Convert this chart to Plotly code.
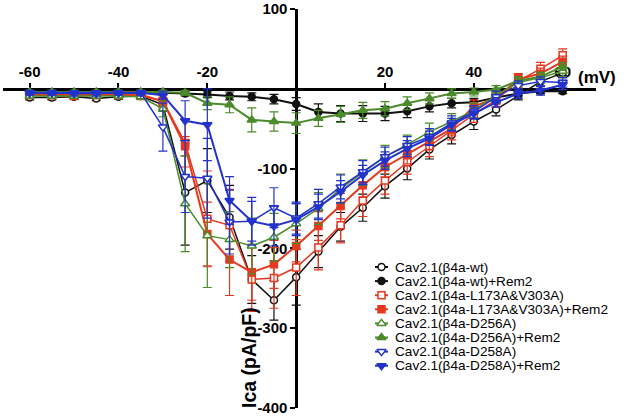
import plotly.graph_objects as go

# ---------------- data ----------------
voltage = [-60, -55, -50, -45, -40, -35, -30, -25, -20, -15, -10, -5, 0,
           5, 10, 15, 20, 25, 30, 35, 40, 45, 50, 55, 60]

names = [
    "Cav2.1(β4a-wt)",
    "Cav2.1(β4a-wt)+Rem2",
    "Cav2.1(β4a-L173A&V303A)",
    "Cav2.1(β4a-L173A&V303A)+Rem2",
    "Cav2.1(β4a-D256A)",
    "Cav2.1(β4a-D256A)+Rem2",
    "Cav2.1(β4a-D258A)",
    "Cav2.1(β4a-D258A)+Rem2",
]

wt = [-11, -11, -10, -12, -10, -9, -20, -130, -115, -161, -239, -265, -236,
      -204, -173, -149, -122, -100, -76, -58, -41, -26, -8, 9, 20]
wt_rem = [-5, -5, -5, -5, -5, -5, -5, -6, -7, -9, -10, -13, -19,
          -29, -31, -31, -31, -28, -22, -18, -17, -11, -6, -3, -3]
l173 = [-8, -8, -9, -8, -8, -9, -15, -68, -163, -171, -239, -237, -224,
        -199, -171, -140, -115, -92, -72, -52, -32, -14, 10, 25, 42]
l173_rem = [-7, -7, -8, -7, -7, -7, -16, -72, -182, -214, -230, -220, -197,
            -172, -147, -121, -98, -82, -66, -50, -22, -12, 12, 19, 34]
d256 = [-9, -9, -9, -9, -9, -10, -25, -144, -184, -189, -197, -186, -169,
        -150, -125, -105, -85, -70, -54, -41, -27, -8, 8, 14, 22]
d256_rem = [-4, -4, -4, -4, -4, -4, -4, -5, -18, -20, -39, -41, -43,
            -37, -32, -27, -25, -18, -12, -6, -4, -1, 10, 15, 28]
d258 = [-5, -5, -6, -6, -5, -5, -48, -110, -112, -167, -166, -149, -162,
        -144, -123, -104, -85, -71, -60, -43, -29, -10, 4, 9, 8]
d258_rem = [-5, -5, -5, -5, -5, -5, -8, -40, -45, -140, -166, -172, -164,
            -148, -129, -108, -90, -75, -62, -45, -31, -17, -6, -2, 5]

err_wt = [3, 3, 3, 3, 3, 3, 8, 66, 40, 40, 30, 25, 35,
          20, 18, 17, 15, 14, 12, 11, 10, 8, 6, 6, 6]
err_wt_rem = [2, 2, 2, 2, 2, 2, 2, 3, 4, 5, 5, 6, 8,
              10, 10, 10, 9, 8, 7, 6, 5, 4, 3, 3, 3]
err_l173 = [3, 3, 3, 3, 3, 3, 8, 30, 60, 45, 40, 38, 35,
            28, 22, 20, 17, 15, 13, 12, 10, 9, 8, 8, 8]
err_l173_rem = [3, 3, 3, 3, 3, 3, 8, 12, 40, 45, 35, 30, 20,
                18, 16, 15, 13, 12, 10, 9, 8, 8, 7, 7, 7]
err_d256 = [3, 3, 3, 3, 3, 3, 10, 60, 65, 35, 35, 30, 25,
            20, 18, 16, 14, 12, 11, 10, 9, 8, 7, 7, 7]
err_d256_rem = [2, 2, 2, 2, 2, 2, 2, 3, 8, 10, 15, 12, 13,
                10, 10, 10, 9, 8, 7, 6, 5, 5, 5, 5, 5]
err_d258 = [3, 3, 3, 3, 3, 3, 30, 45, 50, 40, 30, 25, 20,
            18, 15, 14, 12, 11, 10, 9, 8, 7, 6, 6, 6]
err_d258_rem = [2, 2, 2, 2, 2, 2, 5, 25, 45, 30, 25, 25, 20,
                16, 14, 12, 11, 10, 9, 8, 7, 6, 6, 6, 6]

series = [wt, wt_rem, l173, l173_rem, d256, d256_rem, d258, d258_rem]
errors = [err_wt, err_wt_rem, err_l173, err_l173_rem, err_d256, err_d256_rem,
          err_d258, err_d258_rem]

x_ticks = [-60, -40, -20, 20, 40, 60]
y_ticks = [100, -100, -200, -300, -400]

# ---------------- styles ----------------
BLACK, RED, GREEN, BLUE = "#111111", "#e5381f", "#4b8b2b", "#2233cc"
colors = [BLACK, BLACK, RED, RED, GREEN, GREEN, BLUE, BLUE]
symbols = ["circle", "circle", "square", "square",
           "triangle-up", "triangle-up", "triangle-down", "triangle-down"]
filled = [False, True, False, True, False, True, False, True]
msize = [7, 7, 7, 7, 8, 8, 8, 8]

X_RANGE = [-66, 67.5]
Y_RANGE = [-400, 100]
ML, MR, MT, MB = 3, 29, 9, 8
W, H = 625, 416
PW, PH = W - ML - MR, H - MT - MB
FONT = "Liberation Sans, Arial"

fig = go.Figure()

for i in range(len(series)):
    c = colors[i]
    fig.add_trace(go.Scatter(
        x=voltage, y=series[i], mode="lines+markers",
        name=names[i], showlegend=False,
        line=dict(color=c, width=2 if filled[i] else 1.5),
        marker=dict(symbol=symbols[i], size=msize[i],
                    color=c if filled[i] else "white",
                    line=dict(color=c, width=1.5)),
        error_y=dict(type="data", array=errors[i], visible=True,
                     color=c, thickness=1.2, width=4.5),
        cliponaxis=False,
    ))

# ---------------- custom legend (pixel overlay axes) ----------------
LEG_X0, LEG_X1, LEG_TX = 375, 388, 394
LEG_Y0, LEG_DY = 267, 14.1
annotations = []
for i in range(len(series)):
    c = colors[i]
    yy = LEG_Y0 + i * LEG_DY
    fig.add_trace(go.Scatter(
        x=[LEG_X0, LEG_X1], y=[yy, yy], mode="lines", xaxis="x2", yaxis="y2",
        line=dict(color=c, width=2), showlegend=False, hoverinfo="skip"))
    fig.add_trace(go.Scatter(
        x=[(LEG_X0 + LEG_X1) / 2], y=[yy], mode="markers", xaxis="x2", yaxis="y2",
        marker=dict(symbol=symbols[i], size=msize[i],
                    color=c if filled[i] else "white",
                    line=dict(color=c, width=1.5)),
        showlegend=False, hoverinfo="skip", cliponaxis=False))
    annotations.append(dict(
        x=LEG_TX, y=yy, xref="x2", yref="y2", text=names[i], showarrow=False,
        xanchor="left", yanchor="middle", borderpad=0,
        font=dict(family=FONT, size=13.6, color="black")))

# axis titles
annotations.append(dict(
    x=577, y=77, xref="x2", yref="y2", text="(mV)", showarrow=False,
    xanchor="left", yanchor="middle", borderpad=0,
    font=dict(family=FONT, size=17, color="black", weight="bold")))
annotations.append(dict(
    x=249, y=358, xref="x2", yref="y2", text="Ica (pA/pF)", showarrow=False,
    textangle=-90, xanchor="center", yanchor="middle", borderpad=0,
    font=dict(family=FONT, size=19.5, color="black", weight="bold")))

tickfont = dict(family=FONT, size=15, color="black", weight="bold")

fig.update_layout(
    width=W, height=H,
    margin=dict(l=ML, r=MR, t=MT, b=MB, pad=0, autoexpand=False),
    paper_bgcolor="white", plot_bgcolor="white",
    showlegend=False,
    xaxis=dict(
        range=X_RANGE, anchor="free", automargin=False,
        position=(0 - Y_RANGE[0]) / (Y_RANGE[1] - Y_RANGE[0]),
        side="top", showgrid=False, zeroline=False,
        showline=True, linecolor="black", linewidth=2.5,
        ticks="outside", ticklen=5, tickwidth=2, tickcolor="black",
        tickvals=x_ticks, ticktext=[str(v) for v in x_ticks],
        tickfont=tickfont, layer="below traces", ticklabeloverflow="allow",
    ),
    yaxis=dict(
        range=Y_RANGE, anchor="free", automargin=False,
        position=(0 - X_RANGE[0]) / (X_RANGE[1] - X_RANGE[0]),
        side="left", showgrid=False, zeroline=False,
        showline=True, linecolor="black", linewidth=2.5,
        ticks="outside", ticklen=5, tickwidth=2, tickcolor="black",
        tickvals=y_ticks, ticktext=[str(v) for v in y_ticks],
        tickfont=tickfont, layer="below traces", ticklabeloverflow="allow",
    ),
    xaxis2=dict(range=[ML, ML + PW], overlaying="x", anchor="y2",
                visible=False, fixedrange=True, automargin=False),
    yaxis2=dict(range=[MT + PH, MT], overlaying="y", anchor="x2",
                visible=False, fixedrange=True, automargin=False),
    annotations=annotations,
)

fig.write_html("out.html",
               config={"displayModeBar": False},
               post_script="document.body.style.margin='0';"
                           "document.body.style.overflow='hidden';")
